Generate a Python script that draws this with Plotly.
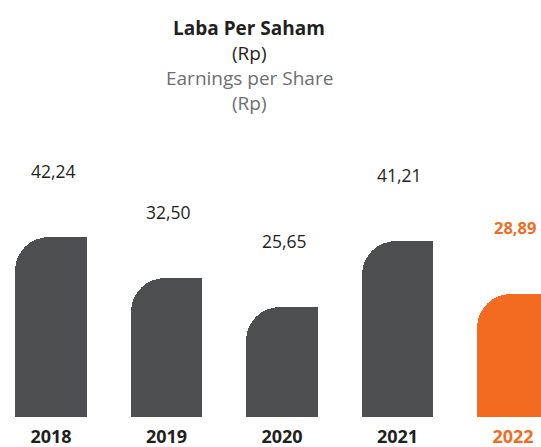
import plotly.graph_objects as go

years = ["2018", "2019", "2020", "2021", "2022"]
values = [42.24, 32.50, 25.65, 41.21, 28.89]
highlight = "2022"

GRAY = "#4D4E50"
ORANGE = "#F26B21"
DARK = "#231F20"
LIGHT = "#6D6E71"

colors = [ORANGE if y == highlight else GRAY for y in years]
tick_text = [f"<span style='color:{ORANGE}'>{y}</span>" if y == highlight else y for y in years]
labels = [f"{v:.2f}".replace(".", ",") for v in values]
idx = list(range(len(years)))

fig = go.Figure()
# main bar with rounded top corners
fig.add_trace(go.Bar(x=idx, y=values, width=0.62, offset=-0.31,
                     marker=dict(color=colors, line=dict(width=0), cornerradius=34),
                     hoverinfo="skip", showlegend=False))
# right half overlay to square off the top-right corner
fig.add_trace(go.Bar(x=idx, y=values, width=0.31, offset=0,
                     marker=dict(color=colors, line=dict(width=0)),
                     hoverinfo="skip", showlegend=False))

for i, y, v, lab in zip(idx, years, values, labels):
    hl = (y == highlight)
    fig.add_annotation(x=i, y=v, xref="x", yref="y",
                       text=f"<b>{lab}</b>" if hl else lab, showarrow=False,
                       xshift=2, yshift=66, yanchor="middle", xanchor="center",
                       font=dict(family="Open Sans", size=16.5 if hl else 17.5,
                                 color=ORANGE if hl else DARK))

H = 417.0
def py(p):
    return (H - p) / H

title_lines = [
    ("<b>Laba Per Saham</b>", DARK, 28, 19),
    ("(Rp)", DARK, 53, 19),
    ("Earnings per Share", LIGHT, 78, 19),
    ("(Rp)", LIGHT, 103, 19),
]
for txt, col, p, sz in title_lines:
    fig.add_annotation(x=249 / 541, y=py(p), xref="paper", yref="paper", text=txt,
                       showarrow=False, xanchor="center", yanchor="middle",
                       font=dict(family="Open Sans", size=sz, color=col))

fig.update_layout(
    width=541, height=447,
    margin=dict(l=0, r=0, t=0, b=30, autoexpand=False),
    paper_bgcolor="white", plot_bgcolor="white",
    barmode="overlay",
    bargap=0,
    xaxis=dict(range=[-0.4416, 4.2424], tickvals=idx, ticktext=tick_text,
               showgrid=False, zeroline=False, showline=False, ticks="",
               ticklabelstandoff=7, automargin=False,
               tickfont=dict(family="Open Sans", size=18, color=DARK, weight="bold")),
    yaxis=dict(range=[0, H / 4.27], visible=False, showgrid=False, zeroline=False,
               automargin=False),
)

fig.write_html("out.html", config={"displayModeBar": False},
               post_script="document.body.style.margin='0';document.body.style.overflow='hidden';")
